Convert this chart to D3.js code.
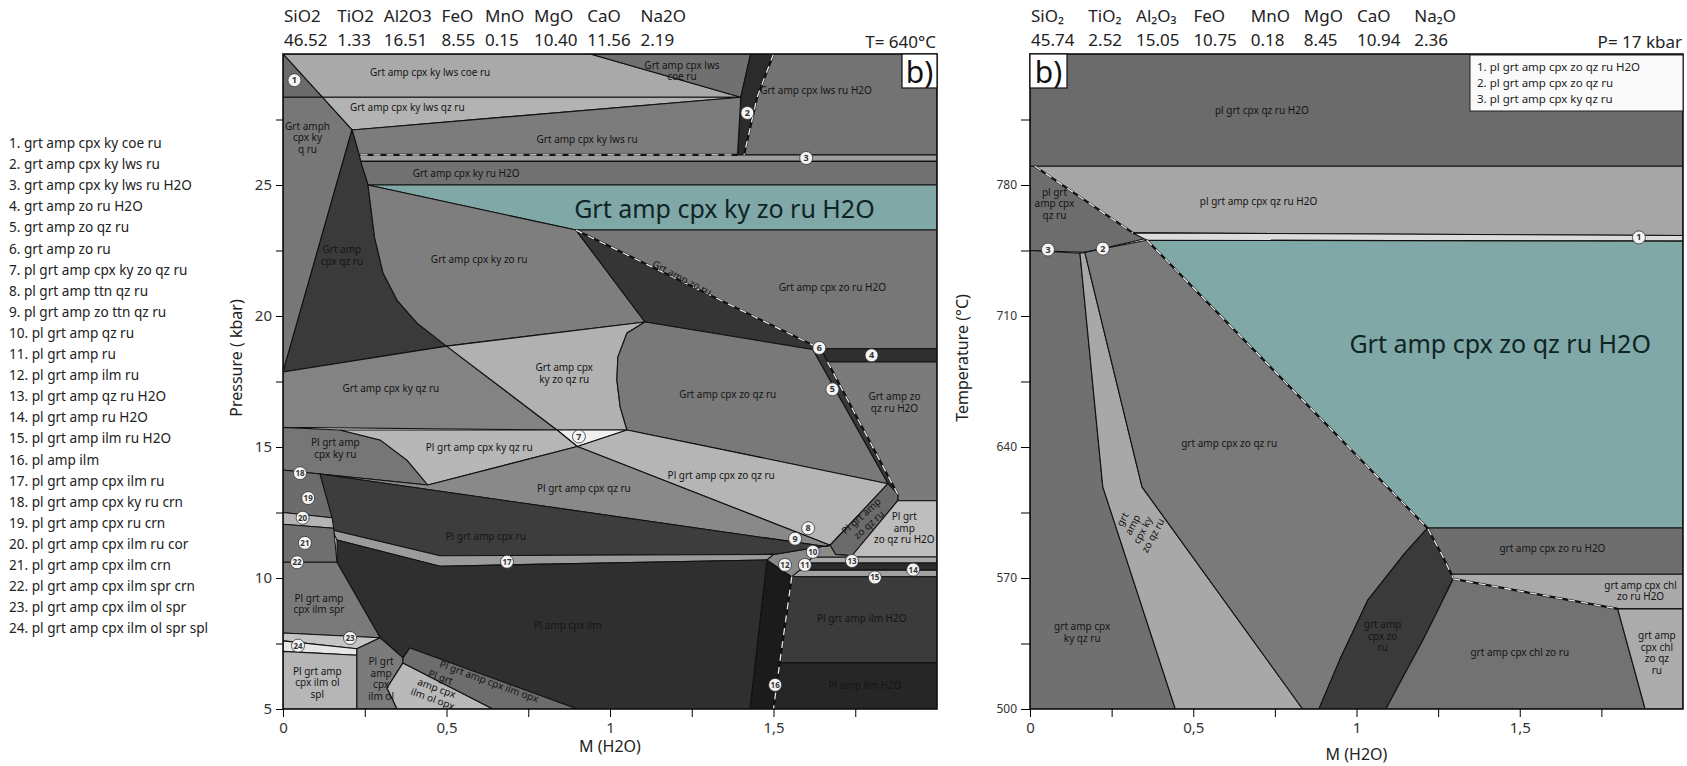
<!DOCTYPE html>
<html><head><meta charset="utf-8">
<script src="https://cdn.jsdelivr.net/npm/d3@7"></script>
<style>
body{margin:0;background:#fff}
svg{display:block}
text{font-family:"Noto Sans","Open Sans",sans-serif}
</style>
</head><body>
<svg id="c" width="1687" height="766"></svg>
<script>
// ---------------- DATA ----------------
const oxidesLeft = ["SiO2","TiO2","Al2O3","FeO","MnO","MgO","CaO","Na2O"];
const valuesLeft = ["46.52","1.33","16.51","8.55","0.15","10.40","11.56","2.19"];
const oxidesRight = ["SiO₂","TiO₂","Al₂O₃","FeO","MnO","MgO","CaO","Na₂O"];
const valuesRight = ["45.74","2.52","15.05","10.75","0.18","8.45","10.94","2.36"];
const condLeft = "T= 640°C";
const condRight = "P= 17 kbar";

const legendLeft = [
 "1. grt amp cpx ky coe ru","2. grt amp cpx ky lws ru","3. grt amp cpx ky lws ru H2O",
 "4. grt amp zo ru H2O","5. grt amp zo qz ru","6. grt amp zo ru","7. pl grt amp cpx ky zo qz ru",
 "8. pl grt amp ttn qz ru","9. pl grt amp zo ttn qz ru","10. pl grt amp qz ru","11. pl grt amp ru",
 "12. pl grt amp ilm ru","13. pl grt amp qz ru H2O","14. pl grt amp ru H2O","15. pl grt amp ilm ru H2O",
 "16. pl amp ilm","17. pl grt amp cpx ilm ru","18. pl grt amp cpx ky ru crn","19. pl grt amp cpx ru crn",
 "20. pl grt amp cpx ilm ru cor","21. pl grt amp cpx ilm crn","22. pl grt amp cpx ilm spr crn",
 "23. pl grt amp cpx ilm ol spr","24. pl grt amp cpx ilm ol spr spl"];
const legendRight = ["1. pl grt amp cpx zo qz ru H2O","2. pl grt amp cpx zo qz ru","3. pl grt amp cpx ky qz ru"];

const mTicks = [0,0.25,0.5,0.75,1,1.25,1.5,1.75];
const mLabels = [0,0.5,1,1.5];
const pTicks = [5,7.5,10,12.5,15,17.5,20,22.5,25,27.5];
const pLabels = [5,10,15,20,25];
const tTicks = [500,535,570,605,640,675,710,745,780,815];
const tLabels = [500,570,640,710,780];

// Left pseudosection fields: [M(H2O), P kbar]
const leftFields = [
 {id:"coe", pts:[[0,30],[0.94,30],[1.40,28.35],[0.12,28.35]]},
 {id:"f1", pts:[[0,30],[0.12,28.35],[0,28.35]]},
 {id:"lwsqz", pts:[[0.12,28.35],[1.40,28.35],[0.211,27.1]]},
 {id:"lwscoe", pts:[[0.94,30],[1.43,30],[1.40,28.35]]},
 {id:"f2", pts:[[1.43,30],[1.50,30],[1.45,28.35],[1.41,26.15],[1.39,26.15],[1.40,28.35]]},
 {id:"lwsH2O", pts:[[1.50,30],[2,30],[2,26.15],[1.41,26.15],[1.45,28.35]]},
 {id:"kylws", pts:[[0.211,27.1],[1.40,28.35],[1.39,26.15],[0.233,26.15]]},
 {id:"f3", pts:[[0.233,26.15],[2,26.15],[2,25.9],[0.237,25.9]]},
 {id:"kyH2O", pts:[[0.237,25.9],[2,25.9],[2,25.0],[0.26,25.0]]},
 {id:"col", pts:[[0,28.35],[0.12,28.35],[0.211,27.1],[0,17.86]]},
 {id:"wedge", pts:[[0.211,27.1],[0.233,26.15],[0.237,25.9],[0.26,25.0],[0.28,23.0],[0.306,21.64],[0.349,20.6],[0.41,19.73],[0.5,18.85],[0,17.86]]},
 {id:"cyan", pts:[[0.26,25.0],[2,25.0],[2,23.28],[0.896,23.28]]},
 {id:"kyzo", pts:[[0.26,25.0],[0.896,23.28],[1.107,19.77],[0.5,18.85],[0.41,19.73],[0.349,20.6],[0.306,21.64],[0.28,23.0]]},
 {id:"f6", pts:[[0.896,23.28],[1.627,18.85],[1.62,18.72],[1.107,19.77]]},
 {id:"zoH2O", pts:[[0.896,23.28],[2,23.28],[2,18.75],[1.645,18.75],[1.627,18.85]]},
 {id:"f4", pts:[[1.645,18.75],[2,18.75],[2,18.25],[1.665,18.25]]},
 {id:"f5", pts:[[1.62,18.72],[1.627,18.85],[1.645,18.75],[1.665,18.25],[1.88,13.2],[1.85,13.6]]},
 {id:"zoqzH2O", pts:[[1.665,18.25],[2,18.25],[2,12.95],[1.88,12.95],[1.88,13.2]]},
 {id:"kyqz", pts:[[0,17.86],[0.5,18.85],[0.838,15.65],[0,15.75]]},
 {id:"kyzoqz", pts:[[0.5,18.85],[1.107,19.77],[1.052,19.35],[1.024,18.43],[1.021,17.56],[1.031,16.53],[1.052,15.65],[0.838,15.65]]},
 {id:"f7", pts:[[0.838,15.65],[1.052,15.65],[0.90,15.02]]},
 {id:"zoqz", pts:[[1.107,19.77],[1.62,18.72],[1.85,13.6],[1.052,15.65],[1.031,16.53],[1.021,17.56],[1.024,18.43],[1.052,19.35]]},
 {id:"plzoqz", pts:[[1.052,15.65],[1.85,13.6],[1.673,11.25],[0.90,15.02]]},
 {id:"pldiag", pts:[[1.673,11.25],[1.85,13.6],[1.88,13.2],[1.88,12.95],[1.74,10.85],[1.69,10.9]]},
 {id:"plzoqzH2O", pts:[[1.88,12.95],[2,12.95],[2,10.8],[1.74,10.8],[1.74,10.85]]},
 {id:"f13", pts:[[1.62,10.8],[2,10.8],[2,10.57],[1.60,10.57]]},
 {id:"f14", pts:[[1.60,10.57],[2,10.57],[2,10.3],[1.58,10.3]]},
 {id:"f15", pts:[[1.58,10.3],[2,10.3],[2,10.05],[1.556,10.05]]},
 {id:"ilmH2O", pts:[[1.556,10.05],[2,10.05],[2,6.76],[1.519,6.76]]},
 {id:"amilmH2O", pts:[[1.519,6.76],[2,6.76],[2,5],[1.50,5]]},
 {id:"f16", pts:[[1.48,10.69],[1.556,10.05],[1.519,6.76],[1.50,5],[1.428,5]]},
 {id:"cluster", pts:[[1.50,10.9],[1.673,11.25],[1.69,10.9],[1.74,10.85],[1.74,10.8],[1.62,10.8],[1.60,10.57],[1.58,10.3],[1.556,10.05],[1.48,10.69]]},
 {id:"plkyru", pts:[[0,15.75],[0.174,15.65],[0.297,15.27],[0.379,14.5],[0.443,13.55],[0.113,13.97],[0,14.12]]},
 {id:"plkyqz", pts:[[0.174,15.65],[0.838,15.65],[0.90,15.02],[0.443,13.55],[0.379,14.5],[0.297,15.27]]},
 {id:"plqz", pts:[[0.113,13.97],[0.443,13.55],[0.90,15.02],[1.673,11.25],[1.66,11.2]]},
 {id:"plru", pts:[[0.113,13.97],[1.66,11.2],[1.673,11.25],[1.50,10.9],[0.48,10.85],[0.15,11.83]]},
 {id:"f17", pts:[[0.15,11.83],[0.48,10.85],[1.50,10.9],[1.48,10.69],[0.48,10.45],[0.165,11.45]]},
 {id:"amilm", pts:[[0.165,11.45],[0.48,10.45],[1.48,10.69],[1.428,5],[0.9,5],[0.388,7.33],[0.367,6.95],[0.297,7.72],[0.165,10.6]]},
 {id:"f19", pts:[[0,14.12],[0.113,13.97],[0.15,12.3],[0,12.5]]},
 {id:"f20", pts:[[0,12.5],[0.15,12.3],[0.155,11.9],[0,12.05]]},
 {id:"f21", pts:[[0,12.05],[0.155,11.9],[0.165,10.6],[0,10.6]]},
 {id:"spr", pts:[[0,10.6],[0.165,10.6],[0.297,7.72],[0,7.9]]},
 {id:"f23", pts:[[0,7.9],[0.297,7.72],[0.226,7.3],[0,7.6]]},
 {id:"f24", pts:[[0,7.6],[0.226,7.3],[0.226,7.05],[0,7.2]]},
 {id:"olspl", pts:[[0,7.2],[0.226,7.05],[0.226,5],[0,5]]},
 {id:"ilmol", pts:[[0.226,7.05],[0.226,7.3],[0.297,7.72],[0.367,6.95],[0.367,6.76],[0.318,5.8],[0.349,5],[0.226,5]]},
 {id:"olopx", pts:[[0.367,6.76],[0.642,5],[0.349,5],[0.318,5.8]]},
 {id:"ilmopx", pts:[[0.388,7.33],[0.9,5],[0.642,5],[0.367,6.76],[0.367,6.95]]}
];
const leftDashed = [
 [[0.237,26.15],[1.39,26.15]],
 [[1.50,30],[1.45,28.35],[1.41,26.15]],
 [[0.896,23.28],[1.627,18.85]],
 [[1.665,18.25],[1.88,13.2]],
 [[1.556,10.05],[1.519,6.76],[1.50,5]]
];
const leftLabels = [
 {t:["Grt amp cpx ky lws coe ru"], x:0.45, y:29.3},
 {t:["Grt amp cpx ky lws qz ru"], x:0.38, y:27.95},
 {t:["Grt amp cpx lws","coe ru"], x:1.22, y:29.35},
 {t:["Grt amp cpx lws ru H2O"], x:1.63, y:28.6},
 {t:["Grt amp cpx ky lws ru"], x:0.93, y:26.75},
 {t:["Grt amp cpx ky ru H2O"], x:0.56, y:25.45},
 {t:["Grt amph","cpx ky","q ru"], x:0.075, y:26.8},
 {t:["Grt amp","cpx qz ru"], x:0.18, y:22.3},
 {t:["Grt amp cpx ky zo ru"], x:0.6, y:22.15},
 {t:["Grt amp zo ru"], x:1.22, y:21.45, r:27},
 {t:["Grt amp cpx zo ru H2O"], x:1.68, y:21.1},
 {t:["Grt amp cpx ky qz ru"], x:0.33, y:17.25},
 {t:["Grt amp cpx","ky zo qz ru"], x:0.86, y:17.8},
 {t:["Grt amp cpx zo qz ru"], x:1.36, y:17.0},
 {t:["Grt amp zo","qz ru H2O"], x:1.87, y:16.7},
 {t:["Pl grt amp","cpx ky ru"], x:0.16, y:14.95},
 {t:["Pl grt amp cpx ky qz ru"], x:0.6, y:15.0},
 {t:["Pl grt amp cpx qz ru"], x:0.92, y:13.43},
 {t:["Pl grt amp cpx zo qz ru"], x:1.34, y:13.93},
 {t:["Pl grt amp cpx ru"], x:0.62, y:11.6},
 {t:["Pl grt amp","zo qz ru"], x:1.78, y:12.2, r:-42},
 {t:["Pl grt","amp","zo qz ru H2O"], x:1.9, y:11.9},
 {t:["Pl grt amp","cpx ilm spr"], x:0.11, y:9.0},
 {t:["Pl amp cpx ilm"], x:0.87, y:8.2},
 {t:["Pl grt amp","cpx ilm ol","spl"], x:0.105, y:6.0},
 {t:["Pl grt","amp","cpx","ilm ol"], x:0.3, y:6.15},
 {t:["Pl grt","amp cpx","ilm ol opx"], x:0.47, y:5.8, r:20},
 {t:["Pl grt amp cpx ilm opx"], x:0.63, y:6.05, r:20},
 {t:["Pl grt amp ilm H2O"], x:1.77, y:8.45},
 {t:["Pl amp ilm H2O"], x:1.78, y:5.9}
];
const leftBigLabel = {t:"Grt amp cpx ky zo ru H2O", x:1.35, y:24.1};
const leftMarkers = [[1,0.035,29.0],[2,1.42,27.75],[3,1.60,26.03],[4,1.80,18.5],[5,1.68,17.2],[6,1.64,18.78],
 [7,0.905,15.4],[8,1.606,11.9],[9,1.566,11.5],[10,1.62,11.0],[11,1.596,10.5],[12,1.535,10.5],[13,1.74,10.65],
 [14,1.927,10.32],[15,1.81,10.02],[16,1.505,5.92],[17,0.685,10.62],[18,0.052,14.0],[19,0.077,13.05],
 [20,0.06,12.3],[21,0.067,11.34],[22,0.043,10.6],[23,0.205,7.71],[24,0.046,7.42]];

// Right pseudosection fields: [M(H2O), T °C]
const rightFields = [
 {id:"top", pts:[[0,850],[2,850],[2,790],[0,790]]},
 {id:"light", pts:[[0.015,790],[2,790],[2,753],[0.315,754.4]]},
 {id:"wedge", pts:[[0,790],[0.015,790],[0.315,754.4],[0.358,751.5],[0.223,746],[0.168,744],[0,745]]},
 {id:"b1", pts:[[0.315,754.4],[2,753],[2,750],[0.358,750.5]]},
 {id:"cyan", pts:[[0.358,750.5],[2,750],[2,596.7],[1.217,596.7]]},
 {id:"kyqz", pts:[[0,745],[0.153,743.5],[0.223,618.7],[0.445,500],[0,500]]},
 {id:"kyzoqz", pts:[[0.153,743.5],[0.168,744],[0.343,618.7],[0.835,500],[0.445,500],[0.223,618.7]]},
 {id:"zoqz", pts:[[0.168,744],[0.223,746],[0.358,750.5],[1.217,596.7],[1.147,583],[1.034,558],[0.948,526],[0.885,500],[0.835,500],[0.343,618.7]]},
 {id:"dark", pts:[[1.217,596.7],[1.26,583],[1.296,570],[1.25,553],[1.204,537],[1.09,500],[0.885,500],[0.948,526],[1.034,558],[1.147,583]]},
 {id:"zoH2O", pts:[[1.217,596.7],[2,596.7],[2,572],[1.293,572],[1.26,583]]},
 {id:"chlH2O", pts:[[1.293,572],[2,572],[2,553.5],[1.80,553.5],[1.296,569.5]]},
 {id:"chl", pts:[[1.296,569.5],[1.80,553.5],[1.884,500],[1.09,500],[1.204,537],[1.25,553]]},
 {id:"chlqz", pts:[[1.80,553.5],[2,553.5],[2,500],[1.884,500]]}
];
const rightDashed = [
 [[0.015,790],[0.315,754.4]],
 [[0.358,750.5],[1.217,596.7],[1.26,583],[1.296,570]],
 [[1.296,569.5],[1.80,553.5]]
];
const rightLabels = [
 {t:["pl grt cpx qz ru H2O"], x:0.71, y:820},
 {t:["pl grt amp cpx qz ru H2O"], x:0.7, y:771},
 {t:["pl grt","amp cpx","qz ru"], x:0.075, y:770},
 {t:["grt amp cpx zo qz ru"], x:0.61, y:642},
 {t:["grt","amp","cpx ky","zo qz ru"], x:0.33, y:597, r:-62},
 {t:["grt amp cpx","ky qz ru"], x:0.16, y:541},
 {t:["grt amp","cpx zo","ru"], x:1.08, y:539},
 {t:["grt amp cpx chl zo ru"], x:1.5, y:530},
 {t:["grt amp cpx zo ru H2O"], x:1.6, y:586},
 {t:["grt amp cpx chl","zo ru H2O"], x:1.87, y:563},
 {t:["grt amp","cpx chl","zo qz","ru"], x:1.92, y:530}
];
const rightBigLabel = {t:"Grt amp cpx zo qz ru H2O", x:1.44, y:695};
const rightMarkers = [[3,0.055,745.5],[2,0.223,746],[1,1.865,752]];

// ---------------- STYLE ----------------
const leftFill = {coe:"#a9a9a9",f1:"#6b6b6b",lwsqz:"#b3b3b3",lwscoe:"#707070",f2:"#2b2b2b",lwsH2O:"#737373",
 kylws:"#7c7c7c",f3:"#9e9e9e",kyH2O:"#717171",col:"#777777",wedge:"#3a3a3a",cyan:"#80a8a6",kyzo:"#7e7e7e",
 f6:"#353535",zoH2O:"#777777",f4:"#2f2f2f",f5:"#383838",zoqzH2O:"#7b7b7b",kyqz:"#838383",kyzoqz:"#b1b1b1",
 f7:"#f0f0f0",zoqz:"#797979",plzoqz:"#b5b5b5",pldiag:"#6b6b6b",plzoqzH2O:"#bdbdbd",f13:"#a8a8a8",f14:"#2c2c2c",
 f15:"#a0a0a0",ilmH2O:"#3b3b3b",amilmH2O:"#262626",f16:"#1b1b1b",cluster:"#8a8a8a",plkyru:"#767676",
 plkyqz:"#b7b7b7",plqz:"#898989",plru:"#3d3d3d",f17:"#9b9b9b",amilm:"#2f2f2f",f19:"#6c6c6c",f20:"#b4b4b4",
 f21:"#6f6f6f",spr:"#7a7a7a",f23:"#c4c4c4",f24:"#e6e6e6",olspl:"#b6b6b6",ilmol:"#7b7b7b",olopx:"#b9b9b9",ilmopx:"#6d6d6d"};
const rightFill = {top:"#6b6b6b",light:"#a6a6a6",wedge:"#6d6d6d",b1:"#dcdcdc",cyan:"#80a8a6",kyqz:"#707070",
 kyzoqz:"#a8a8a8",zoqz:"#7a7a7a",dark:"#3a3a3a",zoH2O:"#6e6e6e",chlH2O:"#aaaaaa",chl:"#727272",chlqz:"#ababab"};

// ---------------- DRAW ----------------
const svg = d3.select("#c");
const xL = d3.scaleLinear([0,2],[283,937]);
const yL = d3.scaleLinear([5,30],[709,54]);
const xR = d3.scaleLinear([0,2],[1030,1683]);
const yR = d3.scaleLinear([500,850],[709,54]);
const mFmt = d => mLabels.includes(d) ? String(d).replace(".", ",") : "";

function drawPanel(o){
  const g = svg.append("g");
  const [x0,x1] = o.x.range(), [y0,y1] = o.y.range();
  const cid = "clip"+o.name;
  svg.append("clipPath").attr("id",cid).append("rect")
    .attr("x",x0).attr("y",y1).attr("width",x1-x0).attr("height",y0-y1);
  const pg = g.append("g").attr("clip-path",`url(#${cid})`);
  const line = d3.line().x(d=>o.x(d[0])).y(d=>o.y(d[1]));
  pg.selectAll("path.f").data(o.fields).join("path").attr("class","f")
    .attr("d", d=>line(d.pts)+"Z").attr("fill", d=>o.fill[d.id])
    .attr("stroke","#111").attr("stroke-width",1.1).attr("stroke-linejoin","round");
  pg.selectAll("path.db").data(o.dashed).join("path").attr("class","db")
    .attr("d", line).attr("fill","none").attr("stroke","#111").attr("stroke-width",2.2);
  pg.selectAll("path.dw").data(o.dashed).join("path").attr("class","dw")
    .attr("d", line).attr("fill","none").attr("stroke","#e8e8e8").attr("stroke-width",1.3)
    .attr("stroke-dasharray","7,6");
  o.labels.forEach(l=>{
    const n = l.t.length, lh = 11.5;
    const t = pg.append("text").attr("font-size",10).attr("fill","#151515").attr("text-anchor","middle")
      .attr("transform",`translate(${o.x(l.x)},${o.y(l.y)}) rotate(${l.r||0})`);
    l.t.forEach((s,i)=> t.append("tspan").attr("x",0).attr("y",(i-(n-1)/2)*lh+3.5).text(s));
  });
  pg.append("text").attr("x",o.x(o.big.x)).attr("y",o.y(o.big.y)+9).attr("text-anchor","middle")
    .attr("font-size",25).attr("fill","#0f2424").text(o.big.t);
  const mk = pg.selectAll("g.mk").data(o.markers).join("g").attr("class","mk")
    .attr("transform", d=>`translate(${o.x(d[1])},${o.y(d[2])})`);
  mk.append("circle").attr("r",6.5).attr("fill","#f4f4f4").attr("stroke","#333").attr("stroke-width",0.8);
  mk.append("text").attr("text-anchor","middle").attr("y",3).attr("font-size",d=>d[0]>9?8:9)
    .attr("font-weight","bold").attr("fill","#333").text(d=>d[0]);
  g.append("rect").attr("x",x0).attr("y",y1).attr("width",x1-x0).attr("height",y0-y1)
    .attr("fill","none").attr("stroke","#111").attr("stroke-width",1.6);
  const ax = g.append("g").attr("transform",`translate(0,${y0})`)
    .call(d3.axisBottom(o.x).tickValues(mTicks).tickSize(8).tickPadding(5).tickFormat(mFmt));
  ax.select(".domain").remove();
  ax.selectAll("text").attr("font-size",15).attr("fill","#333").style("font-family","Noto Sans");
  const ay = g.append("g").attr("transform",`translate(${x0},0)`)
    .call(d3.axisLeft(o.y).tickValues(o.yTicks).tickSize(o.ySize).tickPadding(4).tickFormat(d=>o.yLabels.includes(d)?d:""));
  ay.select(".domain").remove();
  ay.selectAll("text").attr("font-size",o.yFont).attr("fill","#333").style("font-family","Noto Sans");
  g.append("text").attr("x",o.x(1)).attr("y",o.xTitleY).attr("text-anchor","middle").attr("font-size",16)
    .attr("fill","#222").text("M (H2O)");
  g.append("text").attr("transform",`translate(${o.yTitleX},358) rotate(-90)`).attr("text-anchor","middle")
    .attr("font-size",16).attr("fill","#222").text(o.yTitle);
  // header: column layout, each column as wide as its wider text
  const hg = g.append("g");
  const names = hg.selectAll("text.nm").data(o.oxides).join("text").attr("class","nm")
    .attr("y",22).attr("font-size",17).attr("fill","#222").text(d=>d);
  const vals = hg.selectAll("text.vl").data(o.values).join("text").attr("class","vl")
    .attr("y",45.5).attr("font-size",17).attr("fill","#222").text(d=>d);
  const wN = names.nodes().map(n=>n.getComputedTextLength());
  const wV = vals.nodes().map(n=>n.getComputedTextLength());
  const wc = wN.map((w,i)=>Math.max(w,wV[i]));
  const gap = (o.headW - d3.sum(wc))/(wc.length-1);
  const xs = []; let cx = x0+1;
  wc.forEach(w=>{ xs.push(cx); cx += w + gap; });
  names.attr("x",(d,i)=>xs[i]);
  vals.attr("x",(d,i)=>xs[i]);
  g.append("text").attr("x",x1-1).attr("y",47.5).attr("text-anchor","end").attr("font-size",17).attr("fill","#222").text(o.cond);
  return g;
}

drawPanel({name:"L",x:xL,y:yL,fields:leftFields,fill:leftFill,dashed:leftDashed,labels:leftLabels,
  big:leftBigLabel,markers:leftMarkers,yTicks:pTicks,yLabels:pLabels,ySize:7,yFont:15,
  xTitleY:752,yTitleX:242,yTitle:"Pressure ( kbar)",oxides:oxidesLeft,values:valuesLeft,headW:402,cond:condLeft});
drawPanel({name:"R",x:xR,y:yR,fields:rightFields,fill:rightFill,dashed:rightDashed,labels:rightLabels,
  big:rightBigLabel,markers:rightMarkers,yTicks:tTicks,yLabels:tLabels,ySize:9,yFont:12,
  xTitleY:760,yTitleX:968,yTitle:"Temperature (°C)",oxides:oxidesRight,values:valuesRight,headW:425,cond:condRight});

function bBox(x,y,w,h){
  svg.append("rect").attr("x",x).attr("y",y).attr("width",w).attr("height",h).attr("fill","#fff")
    .attr("stroke","#111").attr("stroke-width",1.2);
  svg.append("text").attr("x",x+w/2).attr("y",y+h-5).attr("text-anchor","middle").attr("font-size",30)
    .attr("fill","#111").text("b)");
}
bBox(xL(2)-35,yL(30),35,34);
bBox(xR(0),yR(850),37,34);

const lgx = 1470, lgy = yR(850)+1;
svg.append("rect").attr("x",lgx).attr("y",lgy).attr("width",xR(2)-lgx).attr("height",56)
  .attr("fill","#fafafa").attr("stroke","#222").attr("stroke-width",1);
svg.selectAll("text.lgr").data(legendRight).join("text").attr("class","lgr")
  .attr("x",lgx+7).attr("y",(d,i)=>lgy+16+i*16).attr("font-size",11.5).attr("fill","#222").text(d=>d);

svg.selectAll("text.lgl").data(legendLeft).join("text").attr("class","lgl")
  .attr("x",9).attr("y",(d,i)=>148+i*21.1).attr("font-size",13.6).attr("fill","#222").text(d=>d);
</script>
</body></html>
